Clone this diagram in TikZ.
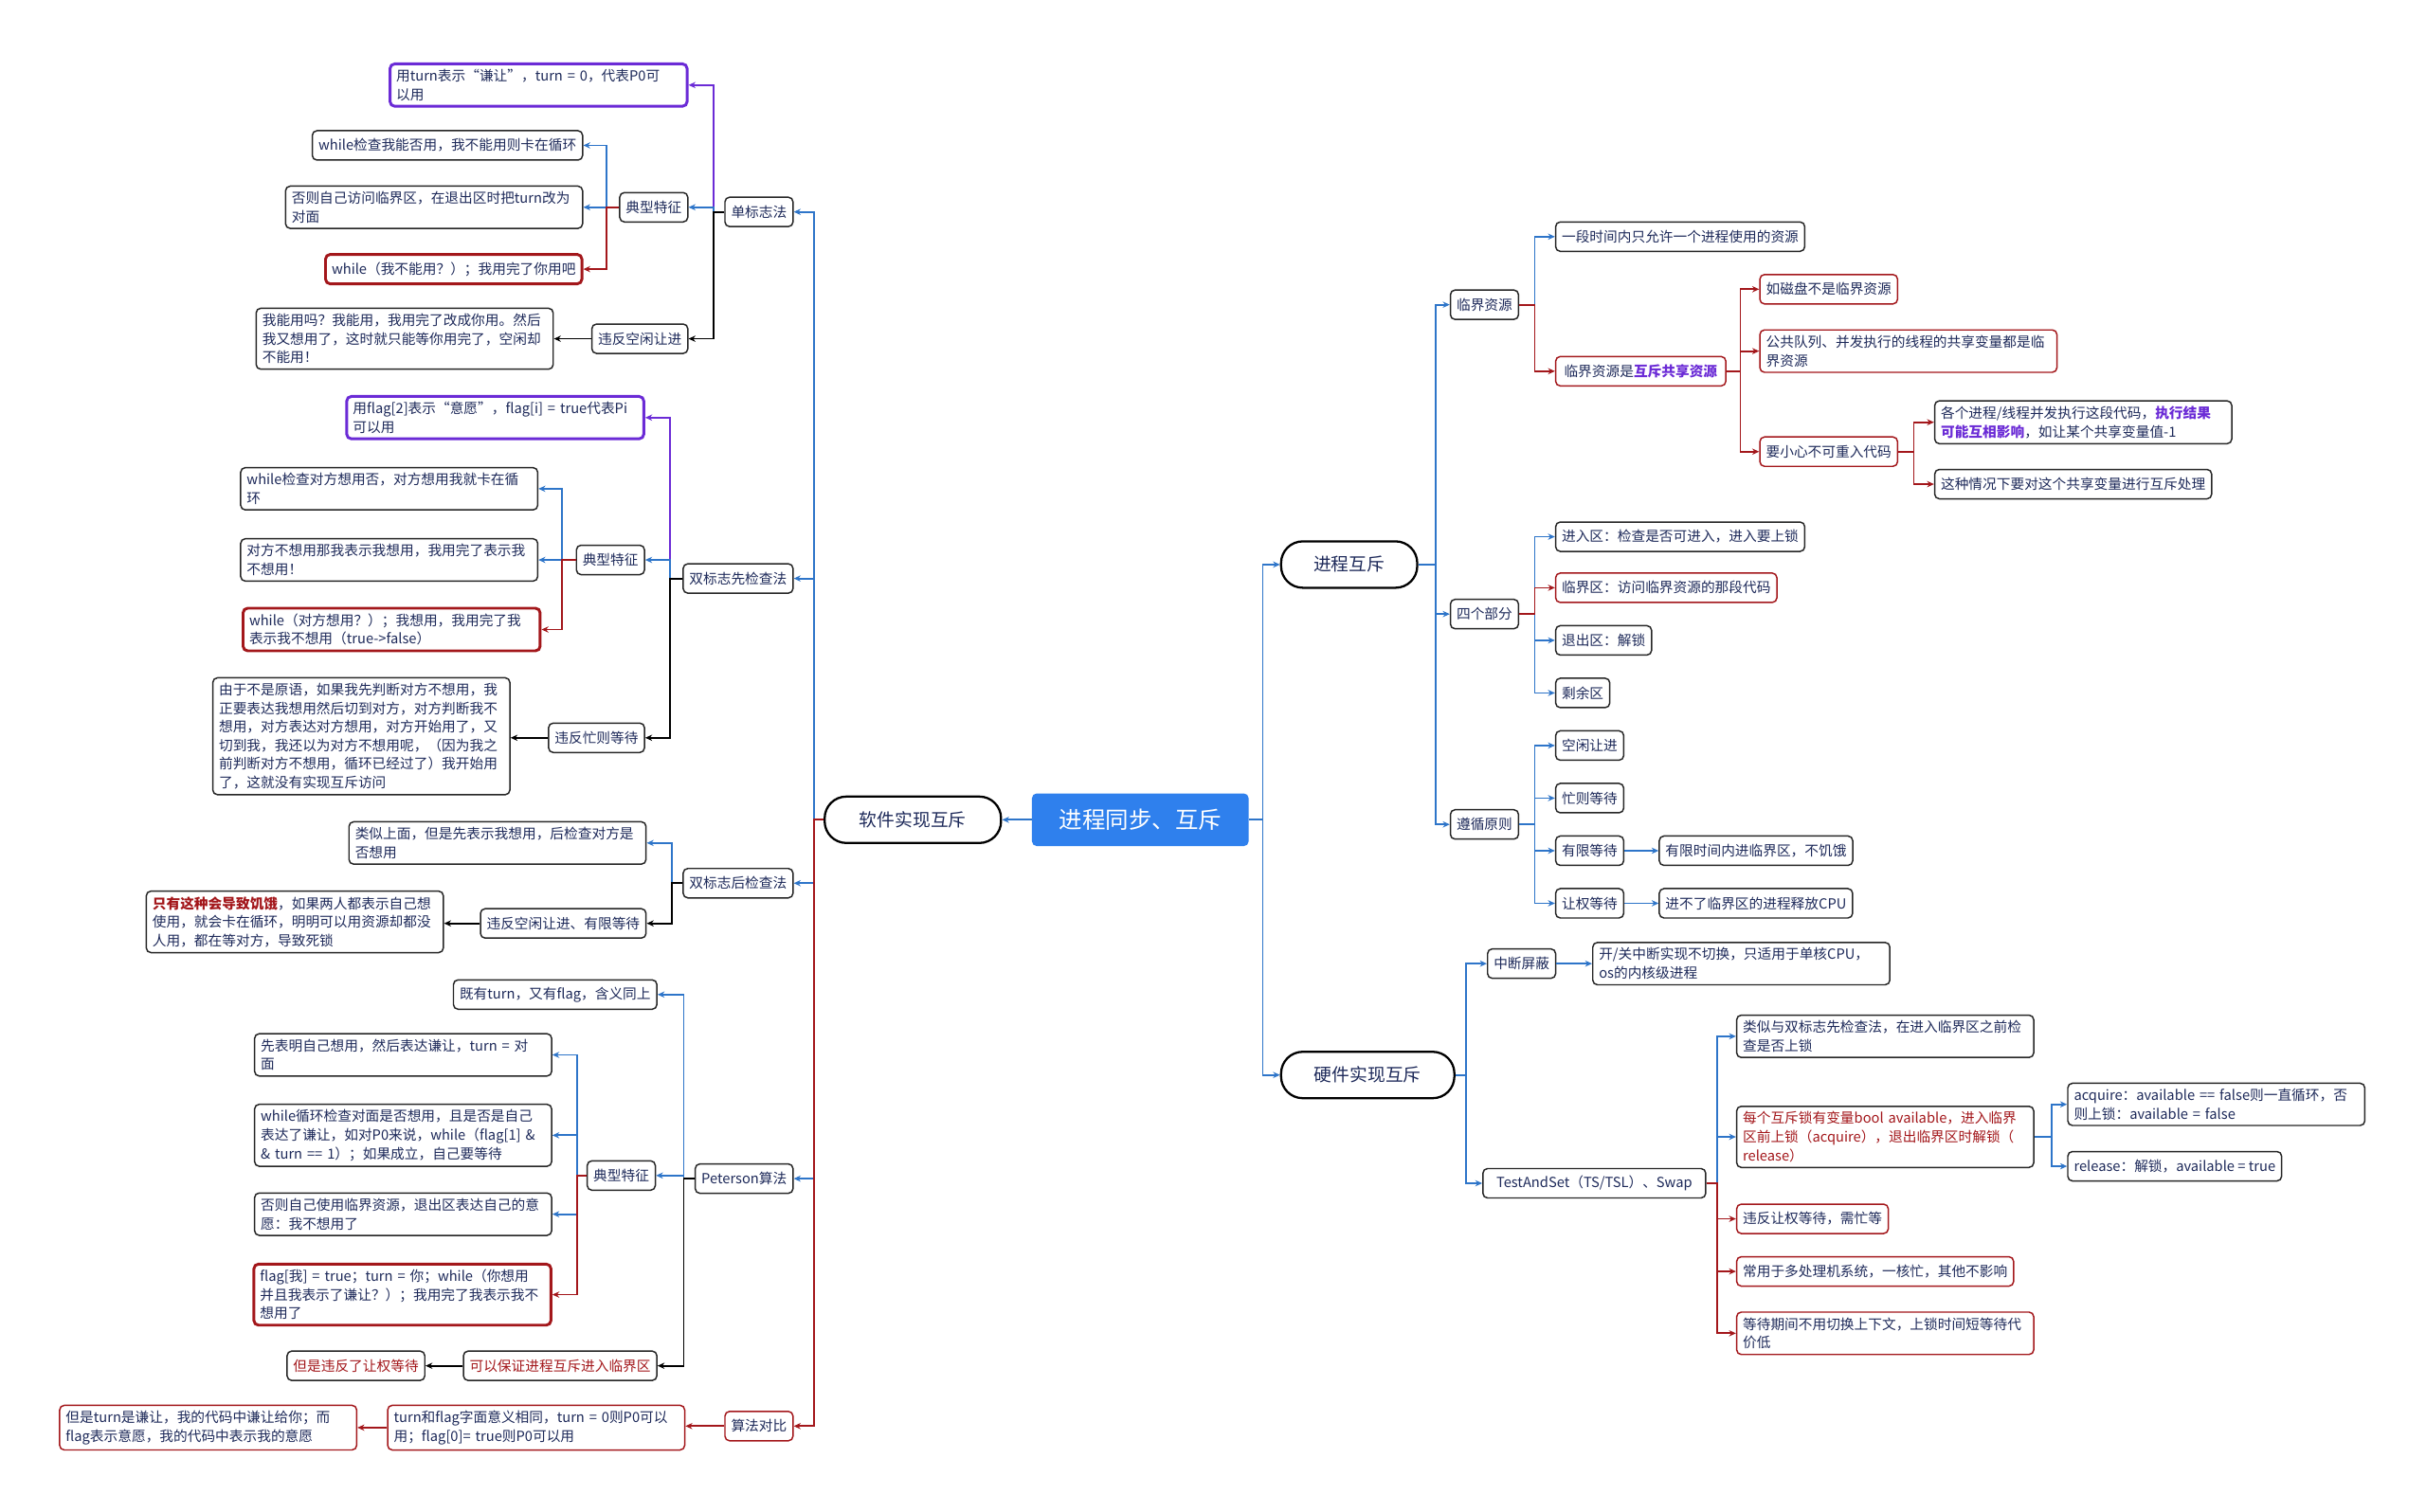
\documentclass[tikz,border=0pt]{standalone}
\usepackage{fontspec}
\setmainfont{Noto Sans CJK SC}
\usetikzlibrary{arrows.meta}

\definecolor{ink}{HTML}{1E2A5A}
\definecolor{frame}{HTML}{262626}
\definecolor{lblue}{HTML}{2E75C9}
\definecolor{lred}{HTML}{A3171B}
\definecolor{lpurple}{HTML}{6B2BD6}
\definecolor{rootblue}{HTML}{2F80ED}

\begin{document}
\begin{tikzpicture}[x=1pt,y=-1pt,
    box/.style={draw=frame, rounded corners=3pt, line width=0.9pt, fill=white, text=ink,
      font=\fontsize{9}{12}\selectfont, inner xsep=4pt, inner ysep=3.5pt, minimum height=19pt},
    wide/.style={box, text width=184pt, align=left},
    redbox/.style={draw=lred},
    purplebox/.style={draw=lpurple, line width=1.8pt},
    thickred/.style={draw=lred, line width=1.8pt},
    hub/.style={draw=black, line width=1.4pt, rounded corners=14pt, fill=white, text=ink,
      minimum width=114pt, minimum height=30pt, font=\fontsize{11.5}{14}\selectfont},
    root/.style={fill=rootblue, rounded corners=3pt, text=white,
      minimum width=140pt, minimum height=34pt, font=\fontsize{15}{18}\selectfont},
    bl/.style={draw=lblue, line width=1.1pt, -{Stealth[length=4.5pt,width=4pt]}},
    rd/.style={bl, draw=lred},
    pu/.style={bl, draw=lpurple},
    bk/.style={bl, draw=black}]

    \useasboundingbox (0,0) rectangle (1568,977);
    \fill[white] (0,0) rectangle (1568,977);

    % Centre
    \node[root] (root) at (737,530) {进程同步、互斥};
    \node[hub] (soft) at (590,530) {软件实现互斥};
    \node[hub, minimum width=88pt] (mutex) at (872,365) {进程互斥};
    \node[hub, minimum width=112pt] (hard) at (884,695) {硬件实现互斥};

    % Software side
    \node[box, anchor=east] (single) at (513,137) {单标志法};
    \node[box, anchor=east] (dfirst) at (513,374) {双标志先检查法};
    \node[box, anchor=east] (dlast) at (513,571) {双标志后检查法};
    \node[box, anchor=east] (peter) at (513,762) {Peterson算法};
    \node[box, redbox, anchor=east] (cmp) at (513,922) {算法对比};

    \node[wide, purplebox, anchor=east] (s1) at (445,55) {用turn表示“谦让”，turn = 0，代表P0可\\以用};
    \node[box, anchor=east] (s2) at (445,134) {典型特征};
    \node[box, anchor=east] (s3) at (445,219) {违反空闲让进};
    \node[box, anchor=east] (s21) at (377,94) {while检查我能否用，我不能用则卡在循环};
    \node[wide, anchor=east] (s22) at (377,134) {否则自己访问临界区，在退出区时把turn改为\\对面};
    \node[box, thickred, anchor=east] (s23) at (377,174) {while（我不能用？）；我用完了你用吧};
    \node[wide, anchor=east] (s31) at (358,219) {我能用吗？我能用，我用完了改成你用。然后\\我又想用了，这时就只能等你用完了，空闲却\\不能用！};

    \node[wide, purplebox, anchor=east] (f1) at (417,270) {用flag[2]表示“意愿”，flag[i] = true代表Pi\\可以用};
    \node[box, anchor=east] (f2) at (417,362) {典型特征};
    \node[box, anchor=east] (f3) at (417,477) {违反忙则等待};
    \node[wide, anchor=east] (f21) at (348,316) {while检查对方想用否，对方想用我就卡在循\\环};
    \node[wide, anchor=east] (f22) at (348,362) {对方不想用那我表示我想用，我用完了表示我\\不想用！};
    \node[wide, thickred, anchor=east] (f23) at (350,407) {while（对方想用？）；我想用，我用完了我\\表示我不想用（true->false）};
    \node[wide, anchor=east] (f31) at (330,476) {由于不是原语，如果我先判断对方不想用，我\\正要表达我想用然后切到对方，对方判断我不\\想用，对方表达对方想用，对方开始用了，又\\切到我，我还以为对方不想用呢，（因为我之\\前判断对方不想用，循环已经过了）我开始用\\了，这就没有实现互斥访问};

    \node[wide, anchor=east] (l1) at (418,545) {类似上面，但是先表示我想用，后检查对方是\\否想用};
    \node[box, anchor=east] (l2) at (418,597) {违反空闲让进、有限等待};
    \node[wide, anchor=east] (l21) at (287,596) {\textcolor{lred}{\bfseries 只有这种会导致饥饿}，如果两人都表示自己想\\使用，就会卡在循环，明明可以用资源却都没\\人用，都在等对方，导致死锁};

    \node[box, anchor=east] (p1) at (425,643) {既有turn，又有flag，含义同上};
    \node[box, anchor=east] (p2) at (424,760) {典型特征};
    \node[box, anchor=east, text=lred] (p3) at (425,883) {可以保证进程互斥进入临界区};
    \node[box, anchor=east, text=lred] (p31) at (275,883) {但是违反了让权等待};
    \node[wide, anchor=east] (p21) at (357,682) {先表明自己想用，然后表达谦让，turn = 对\\面};
    \node[wide, anchor=east] (p22) at (357,734) {while循环检查对面是否想用，且是否是自己\\表达了谦让，如对P0来说，while（flag[1] \&\\\& turn == 1）；如果成立，自己要等待};
    \node[wide, anchor=east] (p23) at (357,785) {否则自己使用临界资源，退出区表达自己的意\\愿：我不想用了};
    \node[wide, thickred, anchor=east] (p24) at (357,837) {flag[我] = true；turn = 你；while（你想用\\并且我表示了谦让？）；我用完了我表示我不\\想用了};

    \node[wide, redbox, anchor=east] (c1) at (443,923) {turn和flag字面意义相同，turn = 0则P0可以\\用；flag[0]= true则P0可以用};
    \node[wide, redbox, anchor=east] (c2) at (231,923) {但是turn是谦让，我的代码中谦让给你；而\\flag表示意愿，我的代码中表示我的意愿};

    % Mutual exclusion side
    \node[box, anchor=west] (crit) at (937,197) {临界资源};
    \node[box, anchor=west] (four) at (937,397) {四个部分};
    \node[box, anchor=west] (rule) at (937,533) {遵循原则};

    \node[box, anchor=west] (cr1) at (1005,153) {一段时间内只允许一个进程使用的资源};
    \node[box, redbox, anchor=west, minimum width=110pt] (cr2) at (1005,240) {临界资源是\textcolor{lpurple}{\bfseries 互斥共享资源}};
    \node[box, redbox, anchor=west] (cr21) at (1137,187) {如磁盘不是临界资源};
    \node[wide, redbox, anchor=west] (cr22) at (1137,227) {公共队列、并发执行的线程的共享变量都是临\\界资源};
    \node[box, redbox, anchor=west] (cr23) at (1137,292) {要小心不可重入代码};
    \node[wide, anchor=west] (cr231) at (1250,273) {各个进程/线程并发执行这段代码，\textcolor{lpurple}{\bfseries 执行结果}\\\textcolor{lpurple}{\bfseries 可能互相影响}，如让某个共享变量值-1};
    \node[box, anchor=west] (cr232) at (1250,313) {这种情况下要对这个共享变量进行互斥处理};

    \node[box, anchor=west] (fo1) at (1005,347) {进入区：检查是否可进入，进入要上锁};
    \node[box, redbox, anchor=west] (fo2) at (1005,380) {临界区：访问临界资源的那段代码};
    \node[box, anchor=west] (fo3) at (1005,414) {退出区：解锁};
    \node[box, anchor=west] (fo4) at (1005,448) {剩余区};

    \node[box, anchor=west] (ru1) at (1005,482) {空闲让进};
    \node[box, anchor=west] (ru2) at (1005,516) {忙则等待};
    \node[box, anchor=west] (ru3) at (1005,550) {有限等待};
    \node[box, anchor=west] (ru4) at (1005,584) {让权等待};
    \node[box, anchor=west] (ru31) at (1072,550) {有限时间内进临界区，不饥饿};
    \node[box, anchor=west] (ru41) at (1072,584) {进不了临界区的进程释放CPU};

    % Hardware side
    \node[box, anchor=west] (intr) at (961,623) {中断屏蔽};
    \node[wide, anchor=west] (intr1) at (1029,623) {开/关中断实现不切换，只适用于单核CPU，\\os的内核级进程};
    \node[box, anchor=west, minimum width=144pt] (tsl) at (958,765) {TestAndSet（TS/TSL）、Swap};
    \node[wide, anchor=west] (t1) at (1122,670) {类似与双标志先检查法，在进入临界区之前检\\查是否上锁};
    \node[wide, anchor=west, text=lred] (t2) at (1122,735) {每个互斥锁有变量bool available，进入临界\\区前上锁（acquire），退出临界区时解锁（\\release）};
    \node[wide, anchor=west] (t21) at (1336,714) {acquire：available == false则一直循环，否\\则上锁：available = false};
    \node[box, anchor=west] (t22) at (1336,754) {release：解锁，available = true};
    \node[box, redbox, anchor=west] (t3) at (1122,788) {违反让权等待，需忙等};
    \node[box, redbox, anchor=west] (t4) at (1122,822) {常用于多处理机系统，一核忙，其他不影响};
    \node[wide, redbox, anchor=west] (t5) at (1122,862) {等待期间不用切换上下文，上锁时间短等待代\\价低};

    % Edges
    \draw[bl] (root.west) -- (soft.east);
    \draw[bl] (root.east) -- ++(9,0) |- (mutex.west);
    \draw[bl] (root.east) -- ++(9,0) |- (hard.west);

    \draw[bl] (soft.west) -- ++(-6,0) |- (single.east);
    \draw[bl] (soft.west) -- ++(-6,0) |- (dfirst.east);
    \draw[bl] (soft.west) -- ++(-6,0) |- (dlast.east);
    \draw[bl] (soft.west) -- ++(-6,0) |- (peter.east);
    \draw[rd] (soft.west) -- ++(-6,0) |- (cmp.east);

    \draw[pu] (single.west) -- ++(-7,0) |- (s1.east);
    \draw[bl] (single.west) -- ++(-7,0) |- (s2.east);
    \draw[bk] (single.west) -- ++(-7,0) |- (s3.east);
    \draw[bl] (s2.west) -- ++(-8,0) |- (s21.east);
    \draw[bl] (s2.west) -- ++(-8,0) |- (s22.east);
    \draw[rd] (s2.west) -- ++(-8,0) |- (s23.east);
    \draw[bk] (s3.west) -- (s3.west -| s31.east);

    \draw[pu] (dfirst.west) -- ++(-8,0) |- (f1.east);
    \draw[bl] (dfirst.west) -- ++(-8,0) |- (f2.east);
    \draw[bk] (dfirst.west) -- ++(-8,0) |- (f3.east);
    \draw[bl] (f2.west) -- ++(-9,0) |- (f21.east);
    \draw[bl] (f2.west) -- ++(-9,0) |- (f22.east);
    \draw[rd] (f2.west) -- ++(-9,0) |- (f23.east);
    \draw[bk] (f3.west) -- (f3.west -| f31.east);

    \draw[bl] (dlast.west) -- ++(-7,0) |- (l1.east);
    \draw[bk] (dlast.west) -- ++(-7,0) |- (l2.east);
    \draw[bk] (l2.west) -- (l2.west -| l21.east);

    \draw[bl] (peter.west) -- ++(-7,0) |- (p1.east);
    \draw[bl] (peter.west) -- ++(-7,0) |- (p2.east);
    \draw[bk] (peter.west) -- ++(-7,0) |- (p3.east);
    \draw[bl] (p2.west) -- ++(-6,0) |- (p21.east);
    \draw[bl] (p2.west) -- ++(-6,0) |- (p22.east);
    \draw[bl] (p2.west) -- ++(-6,0) |- (p23.east);
    \draw[rd] (p2.west) -- ++(-6,0) |- (p24.east);
    \draw[bk] (p3.west) -- (p31.east);

    \draw[rd] (cmp.west) -- (cmp.west -| c1.east);
    \draw[rd] (c1.west) -- (c2.east);

    \draw[bl] (mutex.east) -- ++(11,0) |- (crit.west);
    \draw[bl] (mutex.east) -- ++(11,0) |- (four.west);
    \draw[bl] (mutex.east) -- ++(11,0) |- (rule.west);

    \draw[bl] (crit.east) -- ++(10,0) |- (cr1.west);
    \draw[rd] (crit.east) -- ++(10,0) |- (cr2.west);
    \draw[rd] (cr2.east) -- ++(9,0) |- (cr21.west);
    \draw[rd] (cr2.east) -- ++(9,0) |- (cr22.west);
    \draw[rd] (cr2.east) -- ++(9,0) |- (cr23.west);
    \draw[rd] (cr23.east) -- ++(10,0) |- (cr231.west);
    \draw[rd] (cr23.east) -- ++(10,0) |- (cr232.west);

    \draw[bl] (four.east) -- ++(10,0) |- (fo1.west);
    \draw[bl] (four.east) -- ++(10,0) |- (fo3.west);
    \draw[bl] (four.east) -- ++(10,0) |- (fo4.west);
    \draw[rd] (four.east) -- ++(10,0) |- (fo2.west);

    \draw[bl] (rule.east) -- ++(10,0) |- (ru1.west);
    \draw[bl] (rule.east) -- ++(10,0) |- (ru2.west);
    \draw[bl] (rule.east) -- ++(10,0) |- (ru3.west);
    \draw[bl] (rule.east) -- ++(10,0) |- (ru4.west);
    \draw[bl] (ru3.east) -- (ru31.west);
    \draw[bl] (ru4.east) -- (ru41.west);

    \draw[bl] (hard.east) -- ++(7,0) |- (intr.west);
    \draw[bl] (hard.east) -- ++(7,0) |- (tsl.west);
    \draw[bl] (intr.east) -- (intr1.west);
    \draw[bl] (tsl.east) -- ++(7,0) |- (t1.west);
    \draw[bl] (tsl.east) -- ++(7,0) |- (t2.west);
    \draw[rd] (tsl.east) -- ++(7,0) |- (t3.west);
    \draw[rd] (tsl.east) -- ++(7,0) |- (t4.west);
    \draw[rd] (tsl.east) -- ++(7,0) |- (t5.west);
    \draw[bl] (t2.east) -- ++(11,0) |- (t21.west);
    \draw[bl] (t2.east) -- ++(11,0) |- (t22.west);
\end{tikzpicture}
\end{document}
